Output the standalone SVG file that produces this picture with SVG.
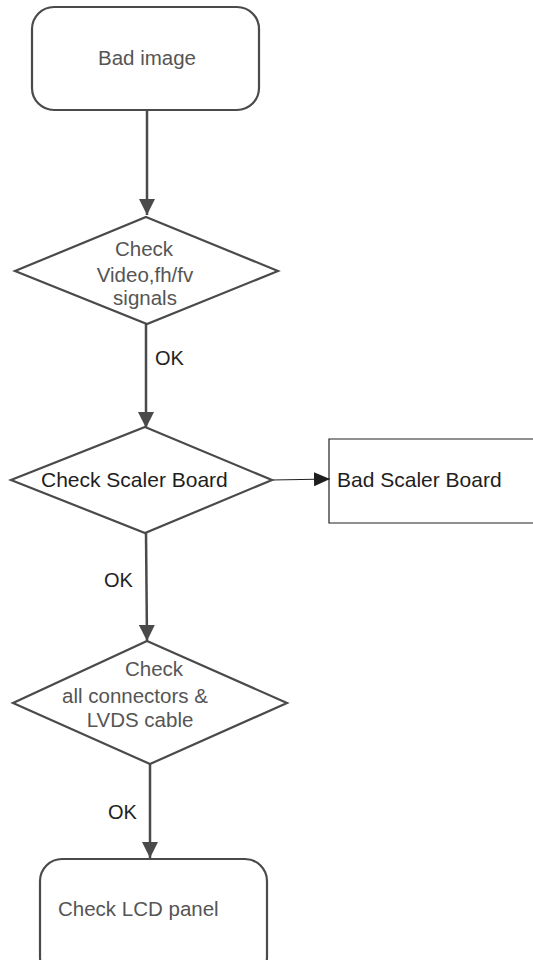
<svg xmlns="http://www.w3.org/2000/svg" width="533" height="960" viewBox="0 0 533 960">
<style>
.shape{fill:#fff;stroke:#4a4a4a;stroke-width:2.2}
.t{font-family:"Liberation Sans",Arial,sans-serif;font-size:20.5px;fill:#555}
.tb{font-family:"Liberation Sans",Arial,sans-serif;font-size:21px;fill:#1e1e1e}
.ok{font-family:"Liberation Sans",Arial,sans-serif;font-size:20px;fill:#222}
.line{stroke:#4a4a4a;stroke-width:2.5;fill:none}
.thin{stroke:#222;stroke-width:1.2;fill:none}
</style>
<defs>
<marker id="ah" markerWidth="16" markerHeight="16" refX="16" refY="8" orient="auto" markerUnits="userSpaceOnUse">
<path d="M0,0 L16,8 L0,16 Z" fill="#4a4a4a"/>
</marker>
<marker id="ahb" markerWidth="16" markerHeight="14" refX="16" refY="7" orient="auto" markerUnits="userSpaceOnUse">
<path d="M0,0 L16,7 L0,14 Z" fill="#1e1e1e"/>
</marker>
</defs>
<rect width="533" height="960" fill="#fff"/>
<g id="connectors">
<line class="line" x1="147" y1="110" x2="147" y2="215" marker-end="url(#ah)"/>
<line class="line" x1="146" y1="324" x2="146" y2="428" marker-end="url(#ah)"/>
<line class="line" x1="146" y1="533" x2="147" y2="641" marker-end="url(#ah)"/>
<line class="line" x1="150" y1="764" x2="150" y2="858" marker-end="url(#ah)"/>
<line class="thin" x1="272" y1="480" x2="330" y2="479" marker-end="url(#ahb)"/>
<text class="ok" x="155" y="365">OK</text>
<text class="ok" x="104" y="587">OK</text>
<text class="ok" x="108" y="819">OK</text>
</g>
<g id="bad-image">
<rect class="shape" x="32" y="7" width="227" height="103" rx="22"/>
<text class="t" x="147" y="65" text-anchor="middle">Bad image</text>
</g>
<g id="check-video">
<polygon class="shape" points="146,217 278,271 147,324 15,271"/>
<text class="t" text-anchor="middle" x="144" y="256">Check</text>
<text class="t" text-anchor="middle" x="145" y="282">Video,fh/fv</text>
<text class="t" text-anchor="middle" x="145" y="305">signals</text>
</g>
<g id="check-scaler">
<polygon class="shape" points="145,427 272,480 145,533 11,480"/>
<text class="tb" x="41" y="487">Check Scaler Board</text>
</g>
<g id="bad-scaler">
<polyline class="thin" points="535,439 329,439 329,523 535,523"/>
<text class="tb" x="337" y="487">Bad Scaler Board</text>
</g>
<g id="check-connectors">
<polygon class="shape" points="147,641 287,703 150,764 13,703"/>
<text class="t" text-anchor="middle" x="154" y="676">Check</text>
<text class="t" text-anchor="middle" x="135" y="703">all connectors &amp;</text>
<text class="t" text-anchor="middle" x="140" y="727">LVDS cable</text>
</g>
<g id="check-lcd">
<rect class="shape" x="40" y="859" width="227" height="120" rx="22"/>
<text class="t" x="58" y="916">Check LCD panel</text>
</g>
</svg>
